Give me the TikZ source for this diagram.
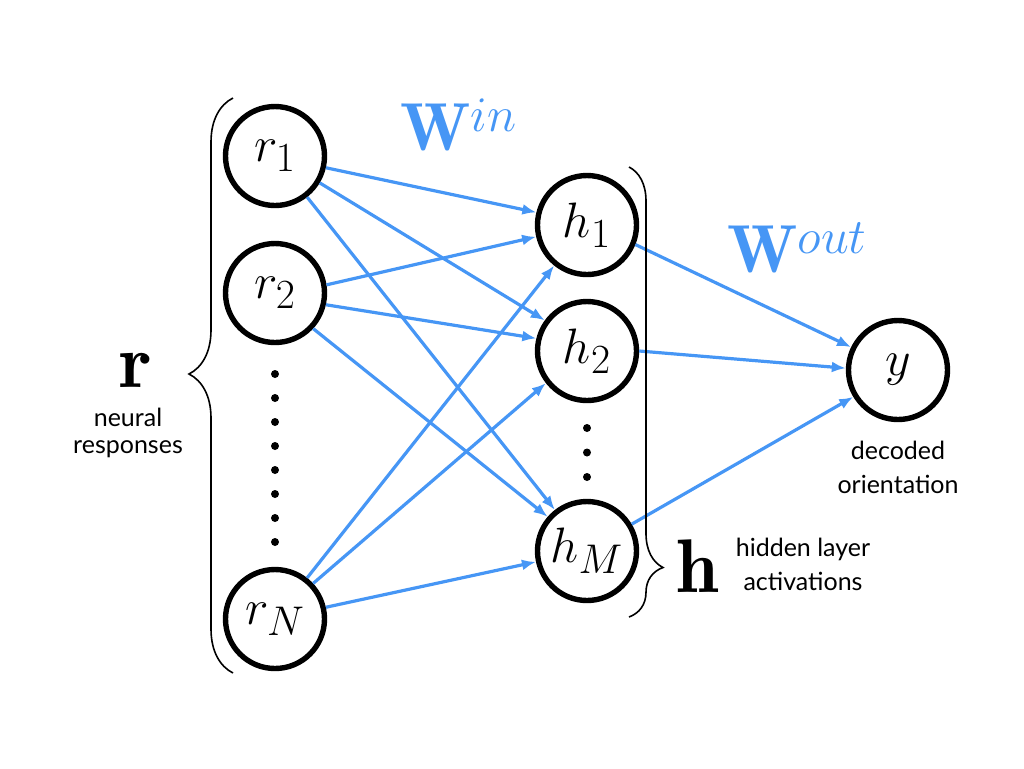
\documentclass[tikz,border=0pt]{standalone}
\usepackage{fontspec}
\setsansfont{Lato}
\usetikzlibrary{arrows.meta,decorations.pathreplacing}
\definecolor{wblue}{RGB}{70,150,245}
\tikzset{neuron/.style={draw, circle, line width=2.7pt, minimum size=49.5pt, inner sep=0pt, font=\fontsize{32}{36}\selectfont},
         link/.style={-{Latex[length=7pt,width=5.5pt]}, draw=wblue, line width=1.6pt},
         brace/.style={decorate, decoration={brace, amplitude=#1}, line width=0.8pt},
         caption/.style={font=\sffamily\fontsize{12.5}{17}\selectfont, align=center, inner sep=0pt},
         bigsym/.style={inner sep=0pt, font=\fontsize{38}{40}\selectfont},
         dot/.style={circle, fill, inner sep=0pt, minimum size=4pt}}

\begin{document}
\begin{tikzpicture}[x=0.5pt, y=-0.5pt]
\useasboundingbox (0,0) rectangle (1024,768);

% input layer
\node (r1) [neuron] at (275,156) {$r_1$};
\node (r2) [neuron] at (275,293) {$r_2$};
\node (rN) [neuron] at (275,619) {$r_N$};
\foreach \k in {0,...,7} \node (rdot\k) [dot] at (275,374+24*\k) {};

% hidden layer
\node (h1) [neuron] at (587,225) {$h_1$};
\node (h2) [neuron] at (587,351) {$h_2$};
\node (hM) [neuron] at (587,551) {$h_M$};
\foreach \k in {0,1,2} \node (hdot\k) [dot] at (587,428+24.5*\k) {};

% output
\node (y) [neuron, font=\fontsize{36}{40}\selectfont] at (898,370) {$y$};

% weights
\foreach \a/\b/\c/\d in {r1/-13/h1/166, r1/-31/h2/144, r1/-52/hM/128,
                         r2/9/h1/-167, r2/-13/h2/166, r2/-43/hM/139,
                         rN/52/h1/-129, rN/43/h2/-142, rN/13/hM/-168,
                         h1/-22/y/154, h2/0/y/178, hM/31/y/-149}
  \draw [link] (\a.\b) -- (\c.\d);

\node (win) [bigsym, anchor=base west, text=wblue, font=\fontsize{34}{36}\selectfont] at (400,150) {$\mathbf{W}^{in}$};
\node (wout) [bigsym, anchor=base west, text=wblue, font=\fontsize{34}{36}\selectfont] at (727,272) {$\mathbf{W}^{out}$};

% braces and labels
\draw [brace=22pt, decoration={aspect=0.52}] (233,673) -- (233,98);
\draw [brace=17pt, decoration={aspect=0.89}] (629,167) -- (629,617);
\node (rlbl) [bigsym, anchor=base] at (136,387) {$\mathbf{r}$};
\node (rtxt) [caption, anchor=base, font=\sffamily\fontsize{12.5}{13.5}\selectfont] at (128,453) {neural\\responses};
\node (hlbl) [bigsym, anchor=base] at (698,592) {$\mathbf{h}$};
\node (htxt) [caption, anchor=base] at (803,590) {hidden layer\\activations};
\node (ytxt) [caption, anchor=base] at (898,493) {decoded\\orientation};
\end{tikzpicture}
\end{document}
